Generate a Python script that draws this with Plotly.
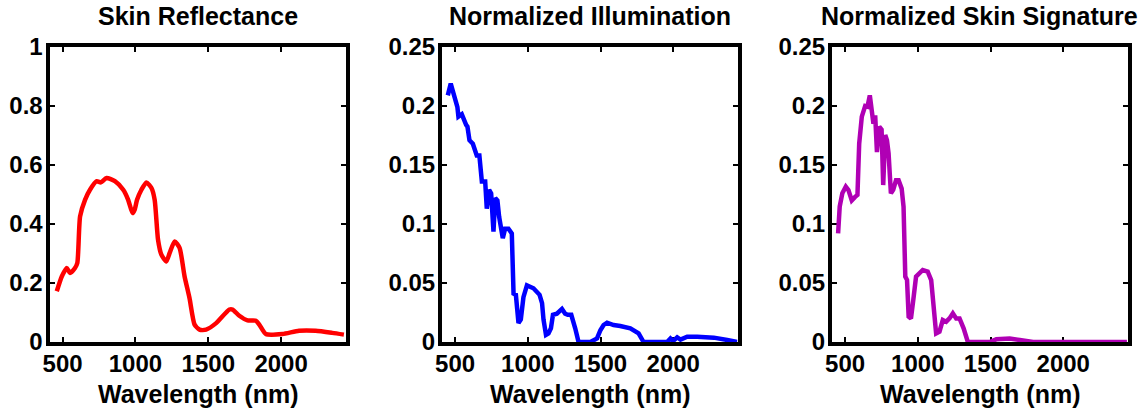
import plotly.graph_objects as go

# ---------------- data ----------------
refl_nm = [460, 495, 529, 551, 585, 601, 620, 654, 688, 734, 763, 802, 859, 916, 950, 980,
           995, 1011, 1041, 1075, 1110, 1132, 1155, 1178, 1212, 1235, 1269, 1303, 1337, 1371,
           1406, 1440, 1485, 1554, 1645, 1667, 1713, 1770, 1827, 1850, 1895, 2009, 2123, 2237,
           2351, 2431]
refl_val = [0.172, 0.223, 0.251, 0.234, 0.251, 0.268, 0.426, 0.482, 0.516, 0.545, 0.541, 0.556,
            0.545, 0.516, 0.482, 0.437, 0.449, 0.482, 0.516, 0.541, 0.522, 0.482, 0.347, 0.296,
            0.273, 0.302, 0.341, 0.319, 0.223, 0.149, 0.059, 0.042, 0.042, 0.064, 0.110, 0.110,
            0.089, 0.073, 0.072, 0.059, 0.027, 0.027, 0.038, 0.038, 0.031, 0.025]

illum_nm = [450, 470, 493, 516, 523, 546, 576, 585, 599, 622, 649, 667, 684, 707, 718, 734,
            748, 764, 776, 791, 803, 815, 828, 844, 867, 890, 902, 918, 936, 952, 970, 994,
            1039, 1081, 1098, 1108, 1125, 1142, 1159, 1173, 1200, 1235, 1257, 1275, 1299, 1326,
            1349, 1430, 1476, 1499, 1521, 1545, 1590, 1636, 1705, 1762, 1796, 1958, 1981, 1999,
            2027, 2050, 2096, 2165, 2279, 2371, 2440]
illum_val = [0.209, 0.219, 0.209, 0.199, 0.191, 0.193, 0.184, 0.1825, 0.171, 0.168, 0.158,
             0.158, 0.136, 0.136, 0.113, 0.129, 0.126, 0.0935, 0.122, 0.120, 0.106, 0.095,
             0.088, 0.096, 0.096, 0.092, 0.041, 0.040, 0.016, 0.019, 0.038, 0.048, 0.0455,
             0.040, 0.033, 0.019, 0.006, 0.0073, 0.0116, 0.023, 0.024, 0.028, 0.024, 0.023,
             0.023, 0.0116, 0.0, 0.0, 0.003, 0.010, 0.0144, 0.0164, 0.0144, 0.0136, 0.0116,
             0.0073, 0.0, 0.0, 0.003, 0.0008, 0.004, 0.002, 0.0045, 0.0045, 0.0037, 0.0017, 0.0]

sig_nm = [452, 463, 481, 505, 523, 546, 569, 585, 597, 615, 638, 654, 670, 682, 695, 707,
          719, 735, 751, 762, 776, 788, 799, 815, 831, 850, 868, 889, 902, 914, 926, 937,
          953, 969, 988, 1034, 1068, 1092, 1107, 1126, 1149, 1172, 1195, 1218, 1241, 1264,
          1287, 1315, 1344, 1494, 1540, 1632, 1701, 1793, 2438]
sig_val = [0.092, 0.1147, 0.126, 0.1316, 0.1288, 0.120, 0.123, 0.1246, 0.168, 0.191, 0.200,
           0.1994, 0.209, 0.1966, 0.185, 0.192, 0.161, 0.1825, 0.180, 0.133, 0.1754, 0.171,
           0.160, 0.126, 0.129, 0.137, 0.137, 0.130, 0.1147, 0.0554, 0.0525, 0.0215, 0.020,
           0.0356, 0.0554, 0.061, 0.0596, 0.0525, 0.0356, 0.0073, 0.0088, 0.0186, 0.0172,
           0.020, 0.0243, 0.020, 0.020, 0.0116, 0.0, 0.0, 0.0023, 0.003, 0.0017, 0.0, 0.0]

titles = ["Skin Reflectance", "Normalized Illumination", "Normalized Skin Signature"]
x_label = "Wavelength (nm)"
x_ticks = [500, 1000, 1500, 2000]
y1_ticks = [0, 0.2, 0.4, 0.6, 0.8, 1]
y1_text = ["0", "0.2", "0.4", "0.6", "0.8", "1"]
y2_ticks = [0, 0.05, 0.1, 0.15, 0.2, 0.25]
y2_text = ["0", "0.05", "0.1", "0.15", "0.2", "0.25"]

# ---------------- figure ----------------
W, H = 1148, 413
FONT = "Liberation Sans, Arial, sans-serif"

fig = go.Figure()
fig.add_trace(go.Scatter(x=refl_nm, y=refl_val, mode="lines", xaxis="x", yaxis="y",
                         line=dict(color="#FF0000", width=4.5, shape="spline", smoothing=0.6)))
fig.add_trace(go.Scatter(x=illum_nm, y=illum_val, mode="lines", xaxis="x2", yaxis="y2",
                         line=dict(color="#0000FF", width=4.5)))
fig.add_trace(go.Scatter(x=sig_nm, y=sig_val, mode="lines", xaxis="x3", yaxis="y3",
                         line=dict(color="#B000B4", width=4.5)))

tickfont = dict(family=FONT, size=24, color="black", weight="bold")
common = dict(showline=True, linecolor="black", linewidth=4, mirror="ticks",
              ticks="inside", ticklen=5, tickwidth=1.5, tickcolor="black",
              showgrid=False, zeroline=False, tickfont=tickfont, layer="below traces",
              automargin=False)

doms_x = [(49.5, 345.5), (442, 737.5), (832, 1127.5)]
dom_y = [1 - 342 / H, 1 - 47 / H]

layout = dict(width=W, height=H, margin=dict(l=0, r=0, t=0, b=0),
              paper_bgcolor="white", plot_bgcolor="white", showlegend=False)

annotations = []
for i, (a, b) in enumerate(doms_x):
    sfx = "" if i == 0 else str(i + 1)
    layout["xaxis" + sfx] = dict(domain=[a / W, b / W], range=[410, 2442],
                                 tickvals=x_ticks, ticktext=[str(t) for t in x_ticks],
                                 anchor="y" + sfx, ticklabelstandoff=-3, **common)
    layout["yaxis" + sfx] = dict(domain=dom_y, anchor="x" + sfx,
                                 range=[0, 1] if i == 0 else [0, 0.25],
                                 tickvals=y1_ticks if i == 0 else y2_ticks,
                                 ticktext=y1_text if i == 0 else y2_text,
                                 ticklabelstandoff=-2, **common)
    cx = (a + b) / 2 / W
    annotations.append(dict(text=titles[i], x=cx, y=1 - 16 / H, xref="paper", yref="paper",
                            xanchor="center", yanchor="middle", showarrow=False,
                            font=dict(family=FONT, size=25, color="black", weight="bold")))
    annotations.append(dict(text=x_label, x=cx, y=1 - 394 / H, xref="paper", yref="paper",
                            xanchor="center", yanchor="middle", showarrow=False,
                            font=dict(family=FONT, size=25, color="black", weight="bold")))
layout["annotations"] = annotations

fig.update_layout(**layout)
fig.write_html("out.html")
